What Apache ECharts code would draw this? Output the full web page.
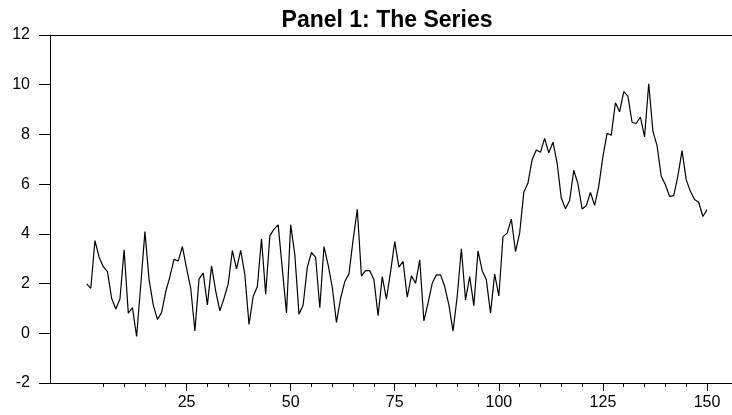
<!DOCTYPE html>
<html>
<head>
<meta charset="utf-8">
<script src="https://cdn.jsdelivr.net/npm/echarts@6/dist/echarts.min.js"></script>
<style>
html,body{margin:0;padding:0;background:#fff;}
#c{width:732px;height:415px;}
</style>
</head>
<body>
<div id="c"></div>
<script>
var titleText = "Panel 1: The Series";
var xStart = 1;
var seriesValues = [
 1.99,1.81,3.73,3.06,2.68,2.48,1.41,0.98,1.38,3.36,
 0.81,1.03,-0.13,1.95,4.09,2.15,1.14,0.56,0.83,1.68,
 2.28,2.98,2.91,3.49,2.62,1.81,0.09,2.19,2.42,1.14,
 2.71,1.70,0.90,1.41,1.99,3.33,2.59,3.34,2.35,0.36,
 1.48,1.88,3.80,1.57,3.92,4.19,4.36,2.59,0.82,4.37,
 3.16,0.77,1.14,2.66,3.25,3.05,1.03,3.49,2.75,1.85,
 0.44,1.41,2.08,2.39,3.76,4.99,2.31,2.52,2.52,2.15,
 0.71,2.28,1.37,2.48,3.69,2.66,2.89,1.45,2.31,2.01,
 2.95,0.50,1.21,2.01,2.35,2.35,1.88,1.14,0.09,1.48,
 3.40,1.34,2.28,1.11,3.32,2.52,2.15,0.81,2.38,1.50,
 3.89,4.03,4.59,3.29,4.03,5.67,6.05,6.99,7.37,7.28,
 7.84,7.26,7.69,6.85,5.44,5.01,5.34,6.56,6.01,5.00,
 5.13,5.67,5.15,5.91,7.12,8.04,7.97,9.27,8.91,9.72,
 9.54,8.49,8.44,8.70,7.90,10.04,8.13,7.55,6.32,5.98,
 5.51,5.54,6.32,7.35,6.18,5.71,5.38,5.27,4.70,4.97
];
var minorTicks = [5,10,15,20,25,30,35,40,45,50,55,60,65,70,75,80,85,90,95,100,105,110,115,120,125,130,135,140,145,150];
var xLabels = [25,50,75,100,125,150];
var yMin = -2, yMax = 12, yStep = 2;

var data = seriesValues.map(function(v, k){ return [xStart + k, v]; });
var font = "'Liberation Sans', Arial, sans-serif";
var chart = echarts.init(document.getElementById('c'), null, {renderer:'canvas'});
var xBase = {type:'value', min:-7.8, max:156, splitLine:{show:false}};
chart.setOption({
  animation:false,
  backgroundColor:'#fff',
  title:{text:titleText, left:382, top:4, textAlign:'center',
    textStyle:{fontFamily:font, fontWeight:'bold', fontSize:23, color:'#000'}},
  grid:{left:50, right:0, top:35, bottom:32},
  xAxis:[
    Object.assign({}, xBase, {position:'bottom',
      axisLine:{show:true, onZero:false, lineStyle:{color:'#000', width:1}},
      axisTick:{show:true, customValues:minorTicks, length:4, inside:false, lineStyle:{color:'#000'}},
      axisLabel:{show:false}}),
    Object.assign({}, xBase, {position:'bottom',
      axisLine:{show:false, onZero:false},
      axisTick:{show:true, customValues:xLabels, length:8, lineStyle:{color:'#000'}},
      axisLabel:{show:true, customValues:xLabels, fontFamily:font, fontSize:16, color:'#000', margin:12}}),
    Object.assign({}, xBase, {position:'top',
      axisLine:{show:true, onZero:false, lineStyle:{color:'#000', width:1}},
      axisTick:{show:false}, axisLabel:{show:false}})
  ],
  yAxis:{type:'value', min:yMin, max:yMax, interval:yStep, position:'left',
    axisLine:{show:true, onZero:false, lineStyle:{color:'#000', width:1}},
    axisTick:{show:true, length:11, lineStyle:{color:'#000'}},
    axisLabel:{fontFamily:font, fontSize:16, color:'#000', margin:20},
    splitLine:{show:false}},
  series:[{type:'line', xAxisIndex:0, data:data, showSymbol:false, symbol:'none',
    lineStyle:{color:'#000', width:1.2}}]
});
</script>
</body>
</html>
